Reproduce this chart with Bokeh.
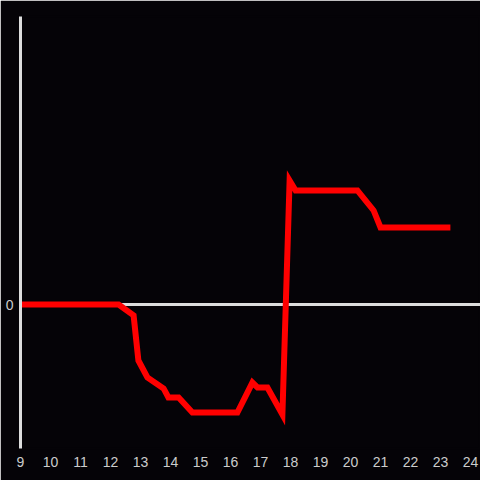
from bokeh.plotting import figure
from bokeh.models import Range1d, FixedTicker, Span
from bokeh.embed import file_html
from bokeh.resources import INLINE

x_vals = [8.9, 12.27, 12.77, 12.93, 13.23, 13.77, 13.93, 14.27, 14.73, 16.23,
          16.73, 16.9, 17.23, 17.73, 17.97, 18.17, 20.23, 20.77, 21.0, 23.33]
y_vals = [0, 0, -0.076, -0.389, -0.507, -0.583, -0.646, -0.646, -0.75, -0.75,
          -0.542, -0.576, -0.576, -0.764, 0.861, 0.792, 0.792, 0.653, 0.535, 0.535]
x_ticks = list(range(9, 25))
y_ticks = [0]

BG = "#050307"
AX = "#dddddd"

p = figure(width=480, height=480, output_backend="svg", toolbar_location=None,
           x_range=Range1d(9, 24.333), y_range=Range1d(-1, 2),
           min_border_left=20, min_border_right=0, min_border_top=16, min_border_bottom=32)
p.background_fill_color = BG
p.border_fill_color = BG
p.outline_line_color = BG
p.outline_line_width = 2
p.grid.visible = False

p.xaxis.ticker = FixedTicker(ticks=x_ticks)
p.xaxis.axis_line_color = None
p.xaxis.major_tick_line_color = None
p.xaxis.minor_tick_line_color = None
p.xaxis.major_label_standoff = 2
p.xaxis.major_label_text_color = "#cccccc"
p.xaxis.major_label_text_font = "Liberation Sans"
p.xaxis.major_label_text_font_size = "14px"

p.yaxis.ticker = FixedTicker(ticks=y_ticks)
p.yaxis.axis_line_color = AX
p.yaxis.axis_line_width = 3
p.yaxis.major_tick_line_color = None
p.yaxis.minor_tick_line_color = None
p.yaxis.major_label_standoff = 1
p.yaxis.major_label_text_color = "#cccccc"
p.yaxis.major_label_text_font = "Liberation Sans"
p.yaxis.major_label_text_font_size = "14px"

p.add_layout(Span(location=0, dimension="width", line_color=AX, line_width=3,
                  level="underlay"))

p.line(x_vals, y_vals, line_color="#ff0000", line_width=6, line_join="miter")

open("out.html", "w").write(file_html(p, INLINE))
